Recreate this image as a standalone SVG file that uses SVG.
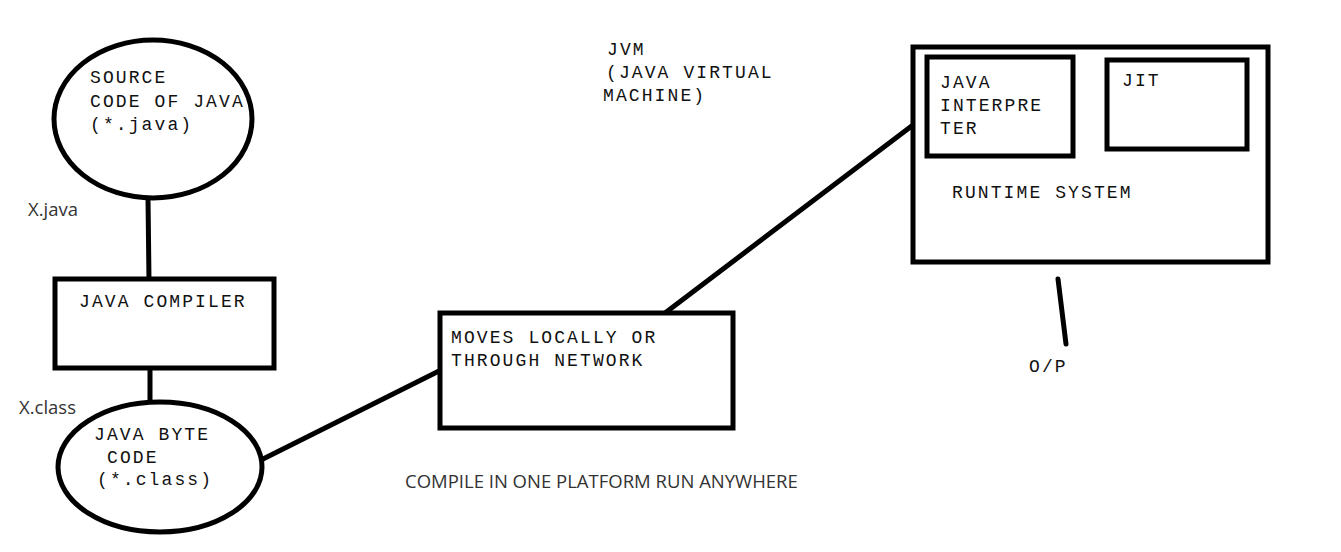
<svg xmlns="http://www.w3.org/2000/svg" width="1341" height="552" viewBox="0 0 1341 552">
  <style>
    .shape { fill: #ffffff; stroke: #000000; stroke-width: 5; }
    .wire { stroke: #000000; stroke-width: 5; stroke-linecap: round; fill: none; }
    .mono { font-family: "Liberation Mono", "DejaVu Sans Mono", monospace; font-size: 18px; letter-spacing: 2.1px; fill: #111111; }
    .sans { font-family: "Open Sans", "Noto Sans", "Liberation Sans", sans-serif; font-size: 18.5px; fill: #333333; }
  </style>
  <rect width="1341" height="552" fill="#ffffff"/>

  <!-- connectors -->
  <g id="connectors">
    <line class="wire" x1="148" y1="198" x2="149" y2="280"/>
    <line class="wire" x1="150" y1="369" x2="150" y2="403"/>
    <line class="wire" x1="261" y1="460" x2="441" y2="370"/>
    <line class="wire" x1="665" y1="313" x2="913" y2="125"/>
    <line class="wire" x1="1058" y1="279" x2="1066" y2="344"/>
  </g>

  <!-- source file -->
  <g id="source-code">
    <ellipse class="shape" cx="153" cy="119" rx="99" ry="79"/>
    <text class="mono" x="90" y="83">SOURCE</text>
    <text class="mono" x="90" y="107">CODE OF JAVA</text>
    <text class="mono" x="90" y="130">(*.java)</text>
  </g>
  <text id="label-xjava" class="sans" x="28" y="216">X.java</text>

  <!-- compiler -->
  <g id="java-compiler">
    <rect class="shape" x="55" y="279" width="219" height="89"/>
    <text class="mono" x="79" y="307">JAVA COMPILER</text>
  </g>
  <text id="label-xclass" class="sans" x="19" y="414">X.class</text>

  <!-- byte code -->
  <g id="byte-code">
    <ellipse class="shape" cx="160" cy="467" rx="102" ry="65"/>
    <text class="mono" x="94" y="440">JAVA BYTE</text>
    <text class="mono" x="107" y="463">CODE</text>
    <text class="mono" x="97" y="485">(*.class)</text>
  </g>

  <!-- transport -->
  <g id="transport">
    <rect class="shape" x="440" y="313" width="293" height="115"/>
    <text class="mono" x="451" y="343">MOVES LOCALLY OR</text>
    <text class="mono" x="451" y="366">THROUGH NETWORK</text>
  </g>

  <!-- JVM caption -->
  <g id="jvm-caption">
    <text class="mono" x="607" y="55">JVM</text>
    <text class="mono" x="606" y="78">(JAVA VIRTUAL</text>
    <text class="mono" x="603" y="101">MACHINE)</text>
  </g>

  <!-- runtime system -->
  <g id="runtime-system">
    <rect class="shape" x="913" y="47" width="355" height="215"/>
    <text class="mono" x="952" y="198">RUNTIME SYSTEM</text>
  </g>
  <g id="interpreter">
    <rect class="shape" x="927" y="57" width="146" height="99"/>
    <text class="mono" x="940" y="88">JAVA</text>
    <text class="mono" x="940" y="111">INTERPRE</text>
    <text class="mono" x="940" y="134">TER</text>
  </g>
  <g id="jit">
    <rect class="shape" x="1107" y="60" width="140" height="89"/>
    <text class="mono" x="1122" y="86">JIT</text>
  </g>

  <!-- output -->
  <text id="output" class="mono" x="1029" y="372">O/P</text>

  <text id="footer" class="sans" x="405" y="488">COMPILE IN ONE PLATFORM RUN ANYWHERE</text>
</svg>
